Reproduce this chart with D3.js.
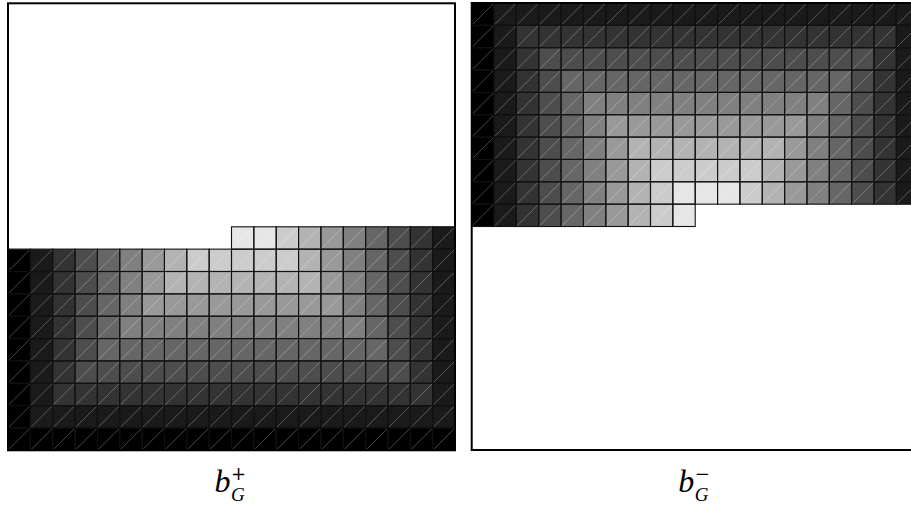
<!DOCTYPE html>
<html>
<head>
<meta charset="utf-8">
<script src="https://cdn.jsdelivr.net/npm/d3@7"></script>
<style>
  html, body { margin: 0; padding: 0; background: #fff; }
  svg { display: block; }
</style>
</head>
<body>
<svg id="chart" width="911" height="505"></svg>
<script>
// Grey level of each mesh cell, in tenths of white (0 = black, 9 = #e6e6e6); null = outside domain.
// b_G^+ : rows listed from the bottom row upward, columns left to right.
const bPlusRows = [
  [0,0,0,0,0,0,0,0,0,0,0,0,0,0,0,0,0,0,0,0],
  [0,1,1,1,1,1,1,1,1,1,1,1,1,1,1,1,1,1,1,1],
  [0,1,2,2,2,2,2,2,2,2,2,2,2,2,2,2,2,2,2,1],
  [0,1,2,3,3,3,3,3,3,3,3,3,3,3,3,3,3,3,2,1],
  [0,1,2,3,4,4,4,4,4,4,4,4,4,4,4,4,4,3,2,1],
  [0,1,2,3,4,5,5,5,5,5,5,5,5,5,5,5,4,3,2,1],
  [0,1,2,3,4,5,6,6,6,6,6,6,6,6,6,5,4,3,2,1],
  [0,1,2,3,4,5,6,7,7,7,7,7,7,7,6,5,4,3,2,1],
  [0,1,2,3,4,5,6,7,8,8,8,8,8,7,6,5,4,3,2,1],
  [null,null,null,null,null,null,null,null,null,null,9,9,8,7,6,5,4,3,2,1]
];
// b_G^- : rows listed from the top row downward, columns left to right.
const bMinusRows = [
  [0,1,1,1,1,1,1,1,1,1,1,1,1,1,1,1,1,1,1,1],
  [0,1,2,2,2,2,2,2,2,2,2,2,2,2,2,2,2,2,2,1],
  [0,1,2,3,3,3,3,3,3,3,3,3,3,3,3,3,3,3,2,1],
  [0,1,2,3,4,4,4,4,4,4,4,4,4,4,4,4,4,3,2,1],
  [0,1,2,3,4,5,5,5,5,5,5,5,5,5,5,5,4,3,2,1],
  [0,1,2,3,4,5,6,6,6,6,6,6,6,6,6,5,4,3,2,1],
  [0,1,2,3,4,5,6,7,7,7,7,7,7,7,6,5,4,3,2,1],
  [0,1,2,3,4,5,6,7,8,8,8,8,8,7,6,5,4,3,2,1],
  [0,1,2,3,4,5,6,7,8,9,9,9,8,7,6,5,4,3,2,1],
  [0,1,2,3,4,5,6,7,8,9,null,null,null,null,null,null,null,null,null,null]
];
const gridN = 20;
const panelLabels = [
  { base: "b", sup: "+", sub: "G" },
  { base: "b", sup: "\u2212", sub: "G" }
];

const svg = d3.select("#chart");
svg.append("rect").attr("width", 911).attr("height", 505).attr("fill", "#fff");

const gray = d3.scaleLinear().domain([0, 10]).range(["#000000", "#ffffff"]);

function drawPanel(rows, x0, y0, size, fromBottom, label) {
  const g = svg.append("g");
  const x = d3.scaleLinear().domain([0, gridN]).range([x0, x0 + size]);
  const y = fromBottom
    ? d3.scaleLinear().domain([0, gridN]).range([y0 + size, y0])
    : d3.scaleLinear().domain([0, gridN]).range([y0, y0 + size]);

  const cells = [];
  rows.forEach((row, r) => row.forEach((v, c) => {
    if (v === null) return;
    const yl = fromBottom ? y(r) : y(r + 1);   // lower edge on screen
    const yt = fromBottom ? y(r + 1) : y(r);   // upper edge on screen
    cells.push({ v, xl: x(c), xr: x(c + 1), yl, yt });
  }));

  // two triangles per cell
  const tri = [];
  cells.forEach(d => {
    tri.push({ v: d.v, pts: [[d.xl, d.yl], [d.xr, d.yl], [d.xr, d.yt]] });
    tri.push({ v: d.v, pts: [[d.xl, d.yl], [d.xr, d.yt], [d.xl, d.yt]] });
  });
  g.append("g").selectAll("path").data(tri).join("path")
    .attr("d", d => "M" + d.pts.map(p => p.join(",")).join("L") + "Z")
    .attr("fill", d => gray(d.v))
    .attr("stroke", d => gray(d.v))
    .attr("stroke-width", 0.3);

  // diagonals
  g.append("g").selectAll("line").data(cells).join("line")
    .attr("x1", d => d.xl).attr("y1", d => d.yl)
    .attr("x2", d => d.xr).attr("y2", d => d.yt)
    .attr("stroke", "#fff").attr("stroke-opacity", 0.2).attr("stroke-width", 0.8);

  // cell edges
  g.append("g").selectAll("rect").data(cells).join("rect")
    .attr("x", d => d.xl).attr("y", d => d.yt)
    .attr("width", d => d.xr - d.xl).attr("height", d => d.yl - d.yt)
    .attr("fill", "none").attr("stroke", "#111").attr("stroke-width", 1.1);

  // frame
  g.append("rect")
    .attr("x", x0).attr("y", y0).attr("width", size).attr("height", size)
    .attr("fill", "none").attr("stroke", "#000").attr("stroke-width", 2);

  // label b_G^{±} as a single text element
  const cx = x0 + size / 2;
  const t = g.append("text").attr("fill", "#000");
  t.append("tspan").attr("x", cx - 17).attr("y", 491.5)
    .attr("font-family", "'Liberation Serif', serif").attr("font-style", "italic")
    .attr("font-size", 32).text(label.base);
  t.append("tspan").attr("x", cx - 0.5).attr("y", 480)
    .attr("font-family", "'DejaVu Serif', serif").attr("font-style", "normal")
    .attr("font-size", 18).text(label.sup);
  t.append("tspan").attr("x", cx - 0.5).attr("y", 501)
    .attr("font-family", "'Liberation Serif', serif").attr("font-style", "italic")
    .attr("font-size", 19).text(label.sub);
}

drawPanel(bPlusRows, 8, 3.3, 447, true, panelLabels[0]);
drawPanel(bMinusRows, 471.7, 3, 447, false, panelLabels[1]);
</script>
</body>
</html>
